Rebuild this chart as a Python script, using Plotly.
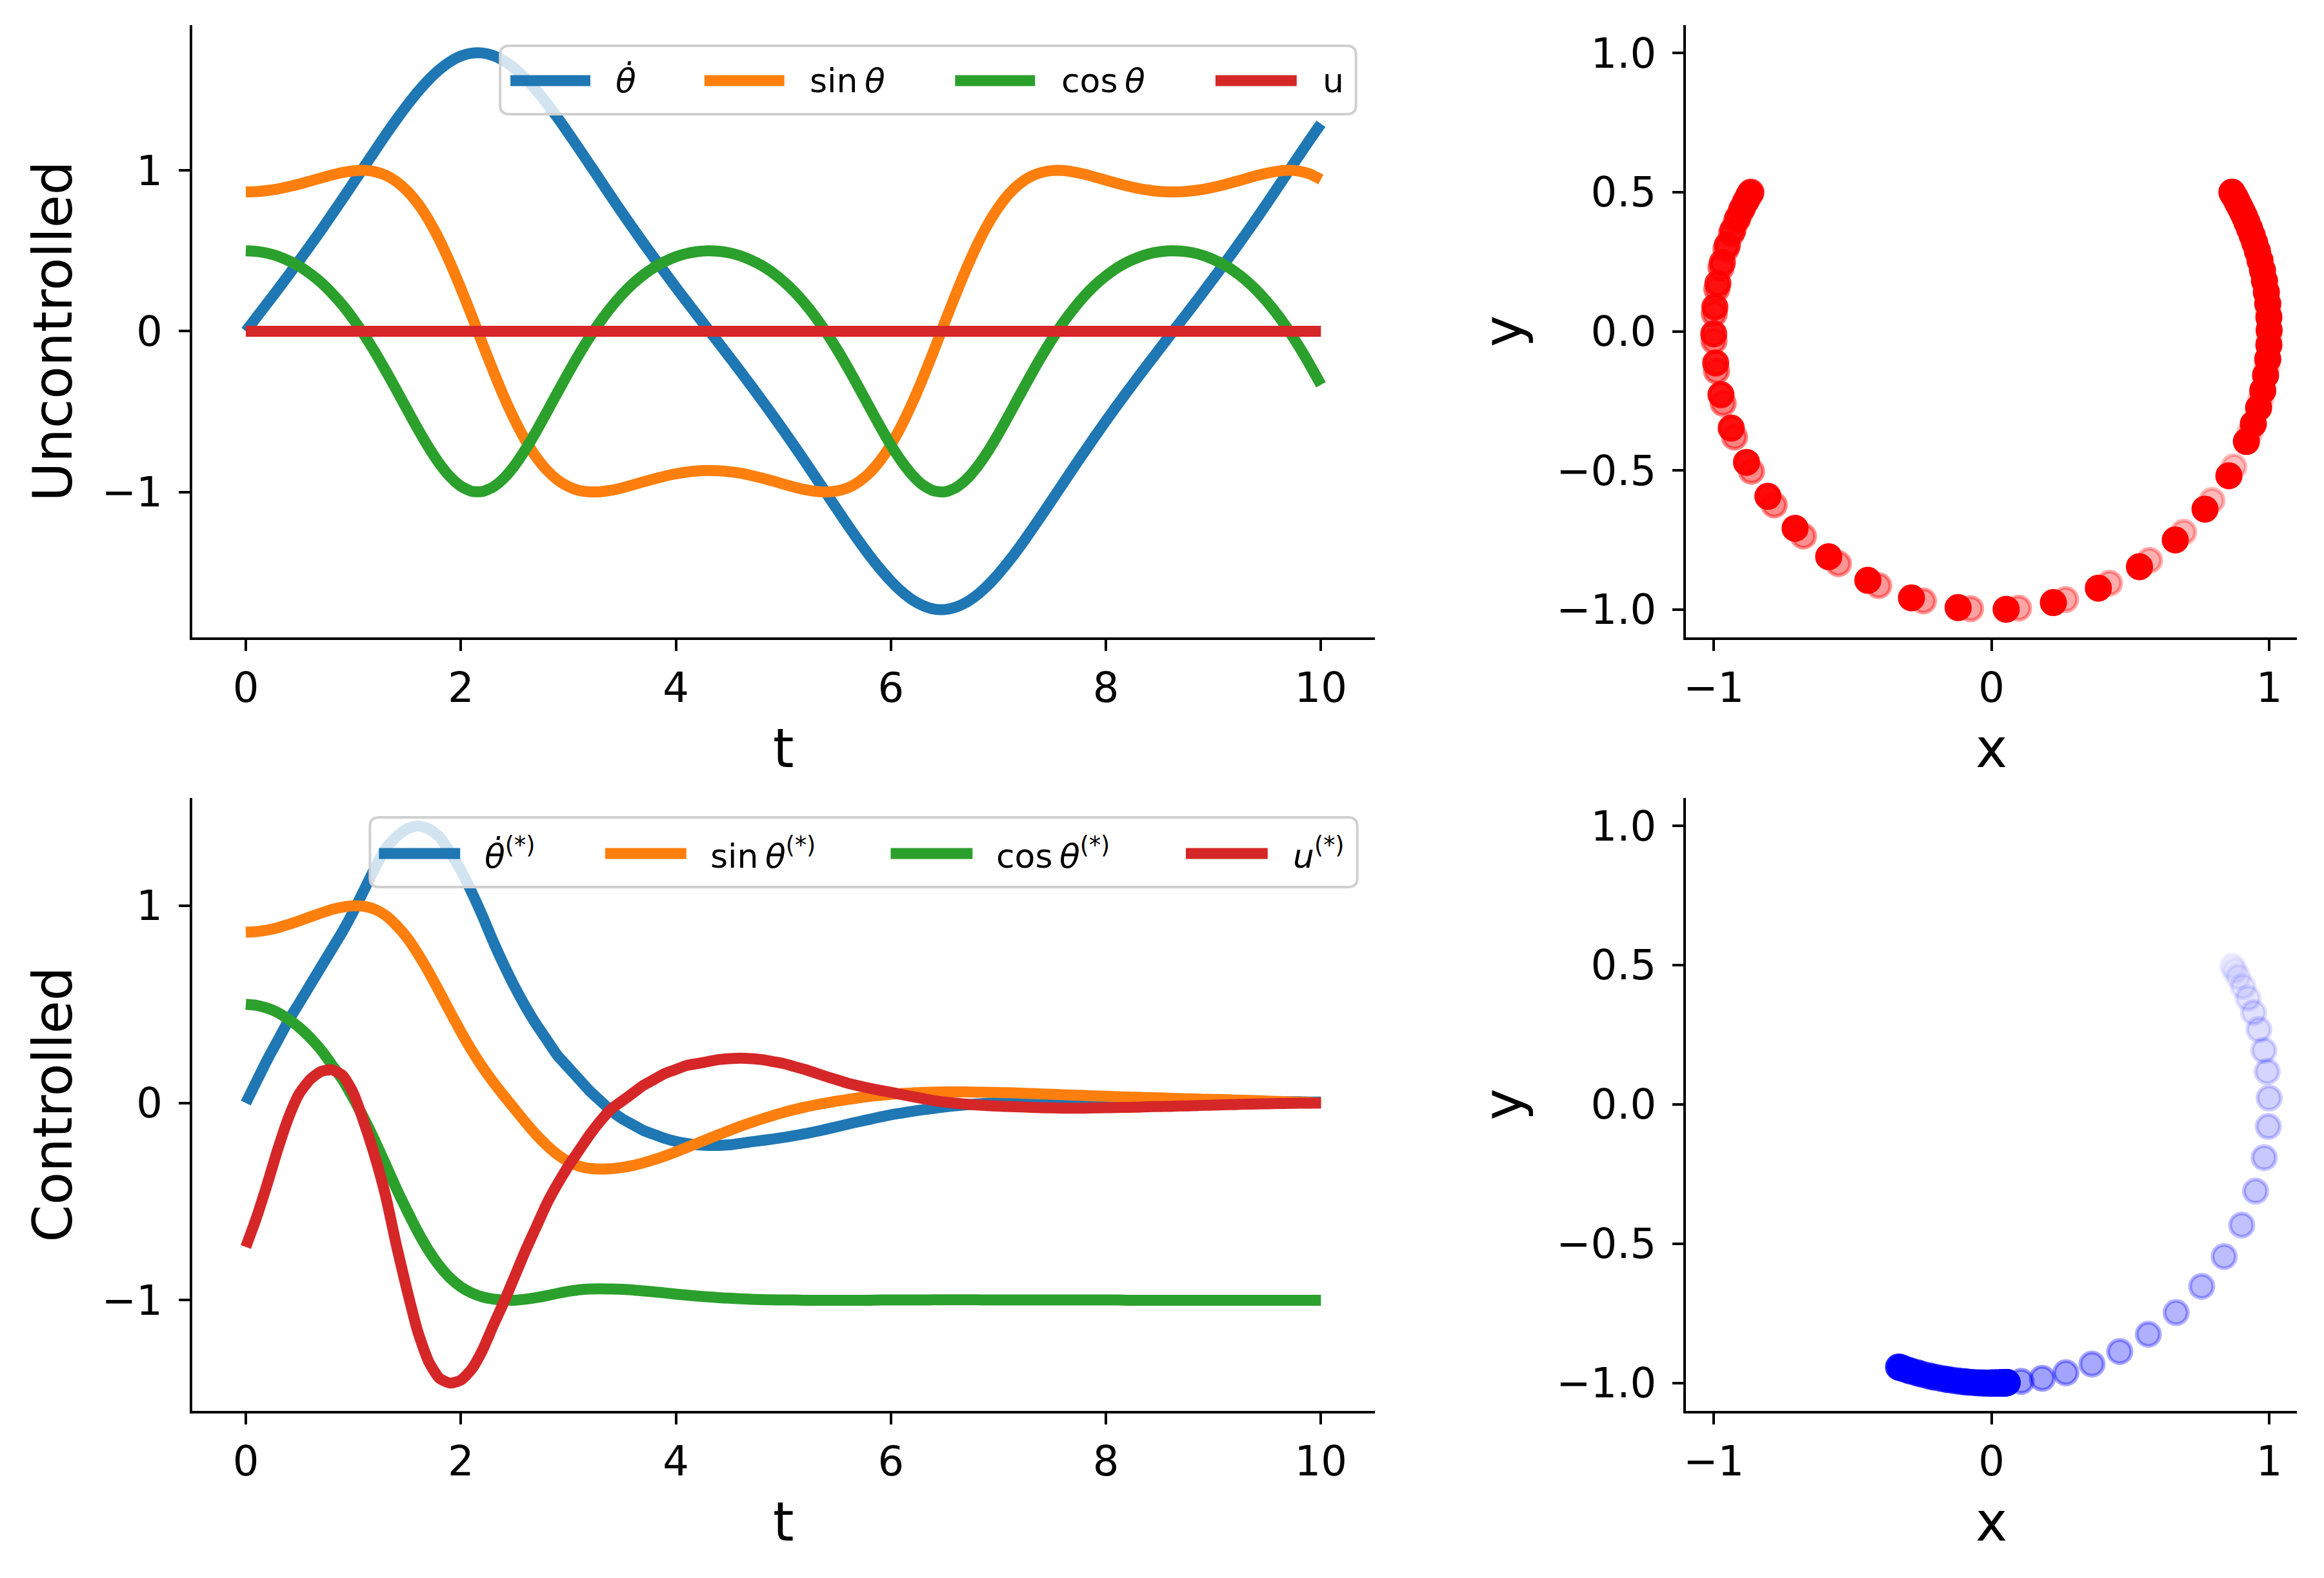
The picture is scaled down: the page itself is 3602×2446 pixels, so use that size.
import numpy as np
import plotly.graph_objects as go

# ---------------- data (sampled every 0.1 time units) ----------------
t = np.round(np.linspace(0, 10, 101), 1)

# uncontrolled pendulum
thetadot_unc = [
    0.000, 0.087, 0.174, 0.262, 0.351, 0.442, 0.534, 0.628, 0.725, 0.823,
    0.922, 1.022, 1.121, 1.220, 1.315, 1.405, 1.489, 1.563, 1.626, 1.676,
    1.711, 1.729, 1.730, 1.714, 1.682, 1.634, 1.572, 1.499, 1.417, 1.327,
    1.232, 1.134, 1.035, 0.935, 0.835, 0.737, 0.641, 0.546, 0.454, 0.363,
    0.273, 0.185, 0.098, 0.011, -0.075, -0.162, -0.250, -0.339, -0.430, -0.522,
    -0.616, -0.712, -0.810, -0.909, -1.009, -1.108, -1.207, -1.303, -1.394, -1.478,
    -1.554, -1.619, -1.671, -1.707, -1.728, -1.731, -1.717, -1.687, -1.641, -1.581,
    -1.509, -1.428, -1.339, -1.245, -1.147, -1.048, -0.948, -0.848, -0.750, -0.653,
    -0.558, -0.465, -0.374, -0.285, -0.197, -0.109, -0.023, 0.064, 0.151, 0.239,
    0.328, 0.418, 0.510, 0.604, 0.699, 0.797, 0.896, 0.996, 1.096, 1.194,
    1.290]
sin_unc = [
    0.866, 0.868, 0.875, 0.885, 0.899, 0.915, 0.934, 0.953, 0.971, 0.987,
    0.997, 1.000, 0.992, 0.970, 0.931, 0.873, 0.794, 0.692, 0.569, 0.425,
    0.267, 0.098, -0.075, -0.245, -0.406, -0.551, -0.677, -0.782, -0.864, -0.925,
    -0.966, -0.990, -0.999, -0.998, -0.989, -0.974, -0.956, -0.936, -0.918, -0.901,
    -0.887, -0.876, -0.869, -0.866, -0.868, -0.874, -0.883, -0.897, -0.913, -0.931,
    -0.951, -0.969, -0.985, -0.996, -1.000, -0.993, -0.974, -0.937, -0.882, -0.805,
    -0.707, -0.586, -0.445, -0.288, -0.120, 0.053, 0.223, 0.385, 0.533, 0.662,
    0.769, 0.855, 0.918, 0.962, 0.987, 0.999, 0.999, 0.990, 0.976, 0.958,
    0.939, 0.920, 0.903, 0.888, 0.877, 0.869, 0.866, 0.867, 0.873, 0.882,
    0.895, 0.911, 0.929, 0.948, 0.967, 0.983, 0.995, 1.000, 0.995, 0.977,
    0.943]
cos_unc = [
    0.500, 0.496, 0.485, 0.466, 0.438, 0.403, 0.357, 0.303, 0.237, 0.162,
    0.075, -0.022, -0.129, -0.244, -0.364, -0.487, -0.608, -0.722, -0.823, -0.905,
    -0.964, -0.995, -0.997, -0.969, -0.914, -0.835, -0.736, -0.624, -0.503, -0.380,
    -0.259, -0.143, -0.035, 0.063, 0.151, 0.228, 0.295, 0.351, 0.397, 0.434,
    0.463, 0.483, 0.495, 0.500, 0.497, 0.487, 0.469, 0.442, 0.408, 0.364,
    0.310, 0.247, 0.172, 0.087, -0.009, -0.114, -0.228, -0.348, -0.471, -0.593,
    -0.708, -0.810, -0.895, -0.958, -0.993, -0.999, -0.975, -0.923, -0.846, -0.750,
    -0.639, -0.519, -0.396, -0.275, -0.158, -0.049, 0.051, 0.140, 0.219, 0.287,
    0.344, 0.392, 0.430, 0.459, 0.481, 0.494, 0.500, 0.498, 0.489, 0.472,
    0.446, 0.413, 0.370, 0.318, 0.255, 0.182, 0.099, 0.004, -0.100, -0.213,
    -0.333]
u_unc = [0.0] * 101  # no control input

# controlled pendulum
thetadot_ctl = [
    0.000, 0.110, 0.220, 0.320, 0.420, 0.510, 0.600, 0.690, 0.780, 0.870,
    0.970, 1.080, 1.190, 1.290, 1.350, 1.390, 1.405, 1.390, 1.350, 1.270,
    1.180, 1.070, 0.950, 0.820, 0.700, 0.590, 0.490, 0.400, 0.320, 0.240,
    0.180, 0.120, 0.060, 0.010, -0.040, -0.080, -0.110, -0.140, -0.160, -0.180,
    -0.195, -0.205, -0.212, -0.215, -0.215, -0.212, -0.205, -0.197, -0.190, -0.183,
    -0.175, -0.166, -0.156, -0.145, -0.133, -0.120, -0.107, -0.095, -0.083, -0.071,
    -0.060, -0.051, -0.042, -0.034, -0.027, -0.020, -0.014, -0.009, -0.005, -0.001,
    0.003, 0.007, 0.010, 0.013, 0.015, 0.017, 0.018, 0.019, 0.019, 0.019,
    0.019, 0.018, 0.018, 0.017, 0.016, 0.015, 0.014, 0.013, 0.012, 0.011,
    0.010, 0.009, 0.009, 0.008, 0.008, 0.007, 0.007, 0.006, 0.006, 0.005,
    0.005]
sin_ctl = [
    0.866, 0.869, 0.877, 0.889, 0.906, 0.924, 0.944, 0.963, 0.981, 0.993,
    1.000, 0.997, 0.982, 0.951, 0.901, 0.838, 0.757, 0.665, 0.565, 0.462,
    0.362, 0.268, 0.183, 0.107, 0.037, -0.030, -0.097, -0.160, -0.215, -0.262,
    -0.297, -0.320, -0.332, -0.335, -0.333, -0.327, -0.317, -0.303, -0.287, -0.268,
    -0.248, -0.226, -0.204, -0.182, -0.160, -0.139, -0.118, -0.099, -0.081, -0.064,
    -0.048, -0.034, -0.021, -0.010, 0.000, 0.010, 0.018, 0.026, 0.033, 0.039,
    0.044, 0.048, 0.051, 0.054, 0.055, 0.056, 0.056, 0.056, 0.055, 0.054,
    0.053, 0.052, 0.050, 0.048, 0.046, 0.044, 0.042, 0.040, 0.038, 0.036,
    0.034, 0.032, 0.030, 0.029, 0.027, 0.026, 0.024, 0.022, 0.021, 0.019,
    0.018, 0.017, 0.015, 0.014, 0.012, 0.010, 0.008, 0.006, 0.004, 0.002,
    0.000]
cos_ctl = [
    0.500, 0.495, 0.481, 0.458, 0.423, 0.382, 0.330, 0.269, 0.194, 0.118,
    0.023, -0.079, -0.191, -0.311, -0.433, -0.546, -0.653, -0.747, -0.825, -0.887,
    -0.932, -0.963, -0.983, -0.994, -0.999, -1.000, -0.995, -0.987, -0.977, -0.965,
    -0.955, -0.947, -0.943, -0.942, -0.943, -0.945, -0.948, -0.953, -0.958, -0.963,
    -0.969, -0.974, -0.979, -0.983, -0.987, -0.990, -0.993, -0.995, -0.997, -0.998,
    -0.999, -0.999, -1.000, -1.000, -1.000, -1.000, -1.000, -1.000, -1.000, -0.999,
    -0.999, -0.999, -0.999, -0.999, -0.998, -0.998, -0.998, -0.998, -0.998, -0.999,
    -0.999, -0.999, -0.999, -0.999, -0.999, -0.999, -0.999, -0.999, -0.999, -0.999,
    -0.999, -0.999, -1.000, -1.000, -1.000, -1.000, -1.000, -1.000, -1.000, -1.000,
    -1.000, -1.000, -1.000, -1.000, -1.000, -1.000, -1.000, -1.000, -1.000, -1.000,
    -1.000]
u_ctl = [
    -0.730, -0.580, -0.410, -0.230, -0.070, 0.050, 0.120, 0.160, 0.168, 0.140,
    0.050, -0.100, -0.270, -0.470, -0.720, -0.950, -1.160, -1.310, -1.395, -1.420,
    -1.405, -1.350, -1.255, -1.130, -1.010, -0.880, -0.750, -0.630, -0.510, -0.410,
    -0.320, -0.240, -0.160, -0.090, -0.030, 0.010, 0.050, 0.090, 0.120, 0.150,
    0.170, 0.190, 0.200, 0.210, 0.220, 0.225, 0.227, 0.225, 0.220, 0.210,
    0.200, 0.185, 0.170, 0.152, 0.134, 0.117, 0.100, 0.087, 0.075, 0.064,
    0.054, 0.043, 0.032, 0.022, 0.012, 0.005, -0.001, -0.006, -0.010, -0.013,
    -0.016, -0.018, -0.020, -0.022, -0.024, -0.025, -0.026, -0.026, -0.026, -0.025,
    -0.024, -0.023, -0.022, -0.021, -0.019, -0.018, -0.017, -0.015, -0.014, -0.012,
    -0.011, -0.009, -0.008, -0.006, -0.005, -0.004, -0.003, -0.002, -0.001, -0.001,
    0.000]

row_titles = ["Uncontrolled", "Controlled"]
legend_unc = ["<i>θ̇</i>", "sin\u2009<i>θ</i>", "cos\u2009<i>θ</i>", "u"]
legend_ctl = ["<i>θ̇</i><sup>(*)</sup>", "sin\u2009<i>θ</i><sup>(*)</sup>",
              "cos\u2009<i>θ</i><sup>(*)</sup>", "<i>u</i><sup>(*)</sup>"]

# ---------------- styling ----------------
W, H = 3602, 2446
FONT = "DejaVu Sans"
COLORS = ["#1f77b4", "#ff7f0e", "#2ca02c", "#d62728"]
LW = 17
TITLE = 83
TICK = 64


def X(px):
    return px / W


def Y(py):
    return 1 - py / H


LEFT_DOM = [X(294), X(2129)]
RIGHT_DOM = [X(2612), X(3560)]
TOP_DOM = [Y(988), Y(39)]
BOT_DOM = [Y(2187), Y(1237)]


def padded(vals_list):
    lo = min(min(v) for v in vals_list)
    hi = max(max(v) for v in vals_list)
    m = 0.05 * (hi - lo)
    return [lo - m, hi + m]


fig = go.Figure()

panels = [
    ("x", "y", [thetadot_unc, sin_unc, cos_unc, u_unc]),
    ("x3", "y3", [thetadot_ctl, sin_ctl, cos_ctl, u_ctl]),
]
for xa, ya, series in panels:
    for vals, col in zip(series, COLORS):
        fig.add_trace(go.Scatter(x=t, y=vals, mode="lines", xaxis=xa, yaxis=ya,
                                 line=dict(color=col, width=LW, shape="spline", smoothing=0.6),
                                 showlegend=False, hoverinfo="skip"))

# marker alpha grows with time (style only)
alpha = np.clip(0.02 + 0.16 * t, 0, 1)


def rgba(rgb, a_arr):
    return ["rgba(%d,%d,%d,%.3f)" % (rgb[0], rgb[1], rgb[2], a) for a in a_arr]


for xa, ya, xs, ys, rgb in [("x2", "y2", sin_unc, cos_unc, (255, 0, 0)),
                            ("x4", "y4", sin_ctl, cos_ctl, (0, 0, 255))]:
    cols = rgba(rgb, alpha)
    fig.add_trace(go.Scatter(x=xs, y=ys, mode="markers", xaxis=xa, yaxis=ya,
                             marker=dict(size=36, color=cols, line=dict(color=cols, width=6)),
                             showlegend=False, hoverinfo="skip"))

base_axis = dict(showline=True, linecolor="black", linewidth=4, ticks="outside",
                 ticklen=17, tickwidth=4, tickcolor="black", showgrid=False,
                 zeroline=False, tickfont=dict(family=FONT, size=TICK, color="black"),
                 mirror=False)


def xax(title, **kw):
    return dict(title=dict(text=title, font=dict(family=FONT, size=TITLE, color="black"), standoff=30),
                ticklabelstandoff=2, **base_axis, **kw)


def yax(title, standoff, **kw):
    return dict(title=dict(text=title, font=dict(family=FONT, size=TITLE, color="black"), standoff=standoff),
                ticklabelstandoff=12, **base_axis, **kw)


fig.update_layout(
    width=W, height=H, margin=dict(l=0, r=0, t=0, b=0),
    paper_bgcolor="white", plot_bgcolor="white", showlegend=False,
    font=dict(family=FONT, color="black"),
    xaxis=xax("t", domain=LEFT_DOM, anchor="y", range=[-0.5, 10.5], tickvals=[0, 2, 4, 6, 8, 10]),
    yaxis=yax(row_titles[0], 19, domain=TOP_DOM, anchor="x",
              range=padded([thetadot_unc, sin_unc, cos_unc, u_unc]), tickvals=[-1, 0, 1]),
    xaxis2=xax("x", domain=RIGHT_DOM, anchor="y2", range=[-1.1, 1.1], tickvals=[-1, 0, 1]),
    yaxis2=yax("y", 26, domain=TOP_DOM, anchor="x2", range=[-1.1, 1.1],
               tickvals=[-1, -0.5, 0, 0.5, 1], tickformat=".1f"),
    xaxis3=xax("t", domain=LEFT_DOM, anchor="y3", range=[-0.5, 10.5], tickvals=[0, 2, 4, 6, 8, 10]),
    yaxis3=yax(row_titles[1], 19, domain=BOT_DOM, anchor="x3",
               range=padded([thetadot_ctl, sin_ctl, cos_ctl, u_ctl]), tickvals=[-1, 0, 1]),
    xaxis4=xax("x", domain=RIGHT_DOM, anchor="y4", range=[-1.1, 1.1], tickvals=[-1, 0, 1]),
    yaxis4=yax("y", 26, domain=BOT_DOM, anchor="x4", range=[-1.1, 1.1],
               tickvals=[-1, -0.5, 0, 0.5, 1], tickformat=".1f"),
)

# ---------------- legends (frame + line samples + labels) ----------------
shapes = []
ann = []


def rrect(x0, y0, x1, y1, r=14):
    p = (f"M {X(x0+r)},{Y(y0)} L {X(x1-r)},{Y(y0)} Q {X(x1)},{Y(y0)} {X(x1)},{Y(y0+r)} "
         f"L {X(x1)},{Y(y1-r)} Q {X(x1)},{Y(y1)} {X(x1-r)},{Y(y1)} "
         f"L {X(x0+r)},{Y(y1)} Q {X(x0)},{Y(y1)} {X(x0)},{Y(y1-r)} "
         f"L {X(x0)},{Y(y0+r)} Q {X(x0)},{Y(y0)} {X(x0+r)},{Y(y0)} Z")
    return dict(type="path", path=p, xref="paper", yref="paper", layer="above",
                fillcolor="rgba(255,255,255,0.8)", line=dict(color="#d0d0d0", width=4))


legend_specs = [
    (dict(box=(772, 71, 2100, 177), ly=125,
          samples=[(788, 912), (1089, 1213), (1478, 1602), (1882, 2008)],
          texts=[949, 1250, 1641, 2046]), legend_unc),
    (dict(box=(570, 1267, 2102, 1375), ly=1323,
          samples=[(584, 710), (935, 1061), (1378, 1505), (1836, 1963)],
          texts=[746, 1096, 1540, 2000]), legend_ctl),
]
for spec, labels in legend_specs:
    shapes.append(rrect(*spec["box"]))
    for (sx0, sx1), tx, lab, col in zip(spec["samples"], spec["texts"], labels, COLORS):
        shapes.append(dict(type="line", xref="paper", yref="paper", layer="above",
                           x0=X(sx0), x1=X(sx1), y0=Y(spec["ly"]), y1=Y(spec["ly"]),
                           line=dict(color=col, width=LW)))
        ann.append(dict(x=X(tx), y=Y(spec["ly"]), text=lab, xref="paper", yref="paper",
                        showarrow=False, xanchor="left", yanchor="middle",
                        font=dict(family=FONT, size=52, color="black")))

fig.update_layout(annotations=ann, shapes=shapes)
fig.write_html("out.html")
